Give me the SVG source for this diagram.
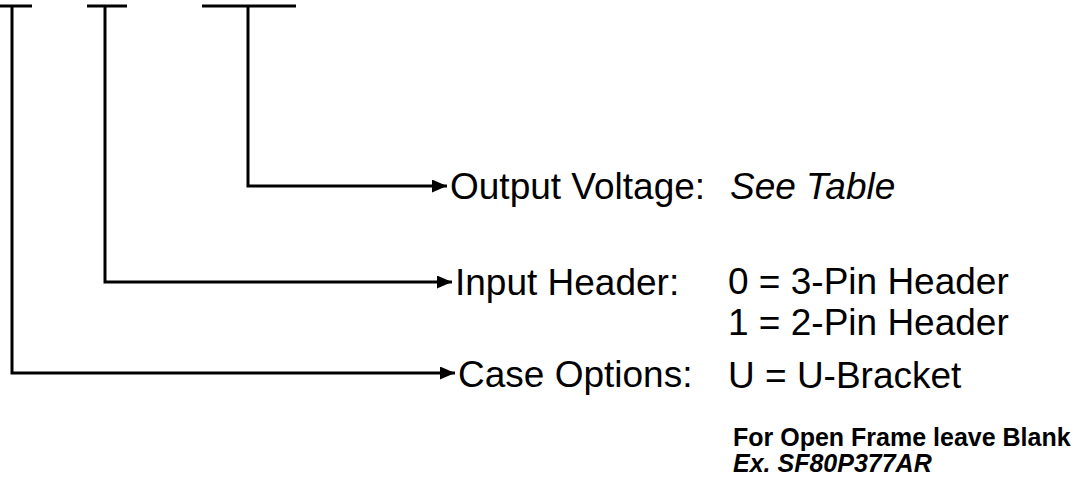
<svg xmlns="http://www.w3.org/2000/svg" width="1081" height="485" viewBox="0 0 1081 485">
  <style>
    .ln { fill: none; stroke: #000; stroke-width: 3; }
    .lbl { font-family: "Liberation Sans", Arial, sans-serif; font-size: 37px; fill: #000; }
    .it { font-style: italic; }
    .note { font-family: "Liberation Sans", Arial, sans-serif; font-size: 25px; font-weight: bold; fill: #000; }
  </style>
  <defs>
    <marker id="arrow" viewBox="0 0 15 13" refX="15" refY="6.5" markerWidth="15" markerHeight="13" markerUnits="userSpaceOnUse" orient="auto">
      <path d="M0,0 L15,6.5 L0,13 Z" fill="#000"/>
    </marker>
  </defs>
  <rect width="1081" height="485" fill="#fff"/>

  <!-- part-number field brackets -->
  <g id="field-case">
    <line class="ln" x1="0" y1="6" x2="32" y2="6"/>
  </g>
  <g id="field-input">
    <line class="ln" x1="87" y1="6" x2="127" y2="6"/>
  </g>
  <g id="field-voltage">
    <line class="ln" x1="202" y1="6" x2="296" y2="6"/>
  </g>

  <!-- leader lines -->
  <g id="connectors">
    <path class="ln" d="M248,6 V186 H447" marker-end="url(#arrow)"/>
    <path class="ln" d="M105,6 V282 H452" marker-end="url(#arrow)"/>
    <path class="ln" d="M12,6 V373 H455" marker-end="url(#arrow)"/>
  </g>

  <g id="output-voltage">
    <text class="lbl" x="450" y="199">Output Voltage:</text>
    <text class="lbl it" x="730" y="199">See Table</text>
  </g>
  <g id="input-header">
    <text class="lbl" x="455" y="295">Input Header:</text>
    <text class="lbl" x="728" y="294">0 = 3-Pin Header</text>
    <text class="lbl" x="728" y="335">1 = 2-Pin Header</text>
  </g>
  <g id="case-options">
    <text class="lbl" x="458" y="387">Case Options:</text>
    <text class="lbl" x="728" y="388">U = U-Bracket</text>
    <text class="note" x="733" y="446">For Open Frame leave Blank</text>
    <text class="note it" x="733" y="472">Ex. SF80P377AR</text>
  </g>
</svg>
